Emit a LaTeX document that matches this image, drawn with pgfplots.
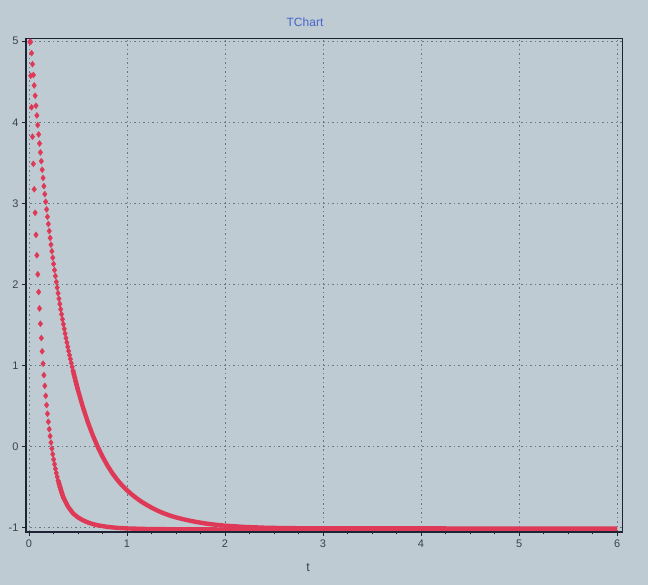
\documentclass[border=0pt]{standalone}
\usepackage{fontspec}
\setmainfont{Liberation Sans}
\usepackage{pgfplots}
\pgfplotsset{compat=1.18}
\definecolor{bg}{RGB}{190,203,210}
\definecolor{ser}{RGB}{222,58,88}
\definecolor{gridc}{RGB}{105,120,132}
\definecolor{titlec}{RGB}{70,100,205}
\definecolor{framec}{RGB}{30,36,52}
\definecolor{labc}{RGB}{60,66,75}
\begin{document}
\begin{tikzpicture}
\fill[bg] (-26pt,-53pt) rectangle (622pt,532pt);
\begin{axis}[
  at={(0pt,0pt)}, anchor=south west,
  scale only axis, width=596pt, height=494pt,
  xmin=-0.03, xmax=6.05, ymin=-1.055, ymax=5.04,
  xtick={0,1,2,3,4,5,6}, ytick={-1,0,1,2,3,4,5},
  xtick pos=left, ytick pos=left,
  minor x tick num=3,
  tick align=outside, major tick length=4pt, minor tick length=2.5pt,
  tick style={framec, line width=0.6pt},
  grid=major,
  major grid style={gridc, dash pattern=on 1.5pt off 3pt, line width=0.55pt},
  axis line style={framec, line width=0.9pt},
  axis background/.style={fill=bg},
  ticklabel style={font=\fontsize{11}{13}\selectfont, text=labc},
  /pgf/number format/assume math mode=true,
  clip=true,
]
% slow curve: dense markers in the head
\addplot[only marks, mark=diamond*, mark size=3pt, color=ser] coordinates {
(0.018,4.992) (0.027,4.853) (0.036,4.717) (0.045,4.584) (0.054,4.455) (0.063,4.328)
(0.072,4.204) (0.081,4.084) (0.090,3.966) (0.099,3.850) (0.108,3.738) (0.117,3.628)
(0.126,3.520) (0.135,3.415) (0.144,3.313) (0.153,3.212) (0.162,3.114) (0.171,3.019)
(0.180,2.925) (0.189,2.834) (0.198,2.745) (0.207,2.658) (0.216,2.573) (0.225,2.490)
(0.234,2.409) (0.243,2.329) (0.252,2.252) (0.261,2.176) (0.270,2.102) (0.279,2.030)
(0.288,1.960) (0.297,1.891) (0.306,1.823) (0.315,1.758) (0.324,1.693) (0.333,1.631)
(0.342,1.569) (0.351,1.509) (0.360,1.451) (0.369,1.394) (0.378,1.338) (0.387,1.283)
(0.396,1.230) (0.405,1.178) (0.414,1.127) (0.423,1.078) (0.432,1.029) (0.441,0.982)
(0.450,0.935) (0.459,0.890) (0.468,0.846) (0.477,0.803) (0.486,0.761) (0.495,0.719)
};
\addplot[color=ser, line width=4.4pt, line join=round] coordinates {
(0.45,0.935) (0.50,0.697) (0.55,0.488) (0.60,0.304) (0.65,0.142) (0.70,0.001)
(0.75,-0.124) (0.80,-0.233) (0.85,-0.329) (0.90,-0.41) (0.95,-0.48) (1.00,-0.54)
(1.05,-0.593) (1.10,-0.64) (1.15,-0.683) (1.20,-0.72) (1.25,-0.754) (1.30,-0.785)
(1.35,-0.812) (1.40,-0.836) (1.45,-0.857) (1.50,-0.875) (1.60,-0.905) (1.70,-0.93)
(1.80,-0.95) (1.90,-0.965) (2.00,-0.977) (2.20,-0.993) (2.40,-1.002) (2.60,-1.007)
(2.80,-1.009) (3.00,-1.010) (4.00,-1.011) (5.00,-1.012) (6.00,-1.013)
};
% fast curve
\addplot[only marks, mark=diamond*, mark size=3pt, color=ser] coordinates {
(0.009,4.991) (0.018,4.574) (0.027,4.185) (0.036,3.823) (0.045,3.487) (0.054,3.174)
(0.063,2.883) (0.072,2.611) (0.081,2.359) (0.090,2.124) (0.099,1.906) (0.108,1.703)
(0.117,1.514) (0.126,1.338) (0.135,1.174) (0.144,1.021) (0.153,0.880) (0.162,0.748)
(0.171,0.625) (0.180,0.511) (0.189,0.404) (0.198,0.305) (0.207,0.213) (0.216,0.128)
(0.225,0.048) (0.234,-0.026) (0.243,-0.095) (0.252,-0.160) (0.261,-0.219) (0.270,-0.275)
(0.279,-0.327) (0.288,-0.375) (0.297,-0.420) (0.306,-0.461) (0.315,-0.500) (0.324,-0.536)
(0.333,-0.570) (0.342,-0.601) (0.351,-0.630)
};
\addplot[color=ser, line width=4.4pt, line join=round] coordinates {
(0.30,-0.425) (0.35,-0.625) (0.40,-0.745) (0.45,-0.825) (0.50,-0.875) (0.55,-0.91)
(0.60,-0.937) (0.65,-0.957) (0.70,-0.972) (0.80,-0.992) (0.90,-1.004) (1.00,-1.011)
(1.20,-1.018) (1.50,-1.022) (2.00,-1.024) (3.00,-1.025) (4.00,-1.026) (5.00,-1.027)
(6.00,-1.028)
};
\end{axis}
\draw[framec, line width=1.6pt] (0pt,494pt) -- (0pt,0pt) -- (596pt,0pt);
\node[font=\fontsize{12}{14}\selectfont, text=titlec] at (279pt,510pt) {TChart};
\node[font=\fontsize{12.5}{14}\selectfont, text=labc] at (282pt,-36pt) {t};
\pgfresetboundingbox
\path[use as bounding box] (-26pt,-53pt) rectangle (622pt,532pt);
\end{tikzpicture}
\end{document}
